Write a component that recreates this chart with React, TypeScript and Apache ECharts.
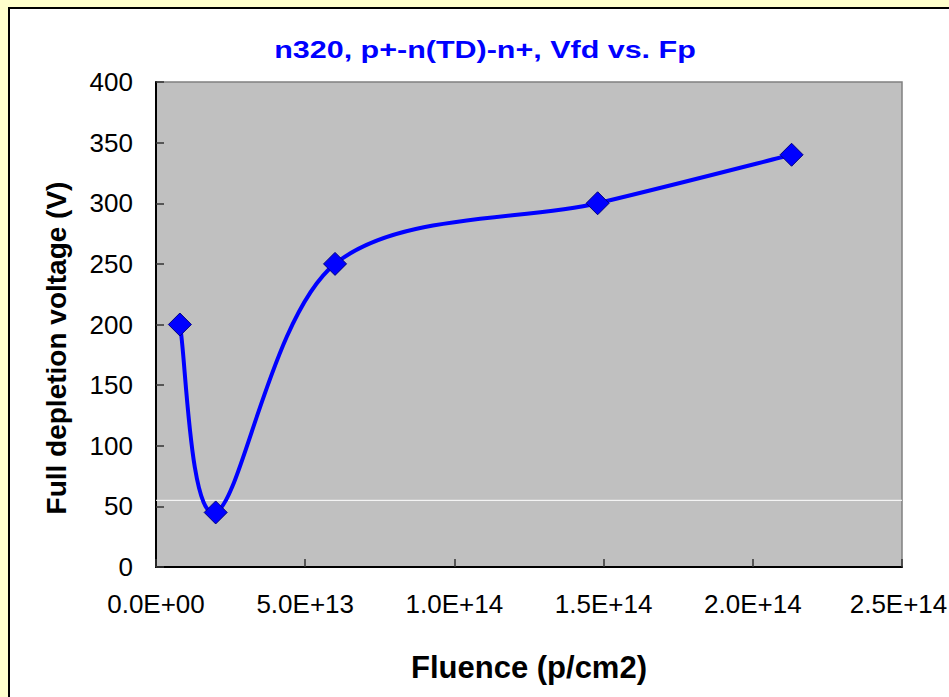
import React, { useEffect, useRef } from "react";
import * as echarts from "echarts";

// Fluence (p/cm2) and full depletion voltage (V) of the measured samples
const fluence = [8e12, 2e13, 6e13, 1.48e14, 2.13e14];
const vfd = [200, 45, 250, 300, 340];

// Axis tick labels
const xTickLabels = ["0.0E+00", "5.0E+13", "1.0E+14", "1.5E+14", "2.0E+14", "2.5E+14"];
const yTickValues = [0, 50, 100, 150, 200, 250, 300, 350, 400];

// Single light horizontal guide inside the plot area
const guideLevel = 55;

const FONT = "'Liberation Sans', Arial, Helvetica, sans-serif";

// Smooth curve through pixel points (Catmull-Rom style, 1/6 tangents)
function smoothPath(pts: number[][]): string {
  if (pts.length < 2) return "";
  let d = `M${pts[0][0]},${pts[0][1]}`;
  for (let i = 0; i < pts.length - 1; i++) {
    const p0 = pts[i - 1] ?? pts[i];
    const p1 = pts[i];
    const p2 = pts[i + 1];
    const p3 = pts[i + 2] ?? pts[i + 1];
    const c1x = p1[0] + (p2[0] - p0[0]) / 6;
    const c1y = p1[1] + (p2[1] - p0[1]) / 6;
    const c2x = p2[0] - (p3[0] - p1[0]) / 6;
    const c2y = p2[1] - (p3[1] - p1[1]) / 6;
    d += ` C${c1x},${c1y} ${c2x},${c2y} ${p2[0]},${p2[1]}`;
  }
  return d;
}

export default function App() {
  const ref = useRef<HTMLDivElement>(null);

  useEffect(() => {
    if (!ref.current) return;
    const chart = echarts.init(ref.current, undefined, { renderer: "svg" });
    const xStep = 5e13;
    const yStep = yTickValues[1] - yTickValues[0];
    const points = fluence.map((f, i) => [f, vfd[i]]);
    const lastX = xTickLabels.length - 1;

    chart.setOption({
      animation: false,
      backgroundColor: "#ffffcc",
      textStyle: { fontFamily: FONT },
      graphic: [
        {
          type: "rect",
          z: -10,
          shape: { x: 9, y: 8, width: 1000, height: 800 },
          style: { fill: "#ffffff", stroke: "#000000", lineWidth: 2 },
        },
        {
          type: "text",
          x: 485,
          y: 50,
          scaleX: 1.27,
          style: {
            text: "n320, p+-n(TD)-n+, Vfd vs. Fp",
            fill: "#0000ff",
            fontSize: 24,
            fontWeight: "bold",
            fontFamily: FONT,
            textAlign: "center",
            textVerticalAlign: "middle",
          },
        },
        {
          type: "text",
          x: 529,
          y: 667,
          style: {
            text: "Fluence (p/cm2)",
            fill: "#000000",
            fontSize: 31,
            fontWeight: "bold",
            fontFamily: FONT,
            textAlign: "center",
            textVerticalAlign: "middle",
          },
        },
        {
          type: "text",
          x: 56,
          y: 348,
          rotation: Math.PI / 2,
          style: {
            text: "Full depletion voltage (V)",
            fill: "#000000",
            fontSize: 28,
            fontWeight: "bold",
            fontFamily: FONT,
            textAlign: "center",
            textVerticalAlign: "middle",
          },
        },
      ],
      grid: {
        left: 156,
        top: 82,
        right: 47,
        bottom: 130,
        outerBoundsMode: "none",
        containLabel: false,
        show: true,
        backgroundColor: "#c0c0c0",
        borderColor: "#808080",
        borderWidth: 1.5,
      },
      xAxis: {
        type: "value",
        min: 0,
        max: xStep * lastX,
        interval: xStep,
        axisLine: { show: true, onZero: false, lineStyle: { color: "#000000", width: 2 } },
        axisTick: { show: true, inside: true, length: 8, lineStyle: { color: "#333333", width: 1.5 } },
        splitLine: { show: false },
        axisLabel: {
          color: "#000000",
          fontSize: 26,
          fontFamily: FONT,
          margin: 24,
          hideOverlap: false,
          formatter: (v: number) => {
            const i = Math.round(v / xStep);
            const label = xTickLabels[i] ?? "";
            // keep the right-most label inside the canvas edge
            return i === lastX ? `{edge|${label}}` : label;
          },
          rich: {
            edge: {
              fontSize: 26,
              fontFamily: FONT,
              color: "#000000",
              padding: [0, 7, 0, 0],
            },
          },
        },
      },
      yAxis: {
        type: "value",
        min: yTickValues[0],
        max: yTickValues[yTickValues.length - 1],
        interval: yStep,
        axisLine: { show: true, onZero: false, lineStyle: { color: "#000000", width: 2 } },
        axisTick: { show: true, inside: true, length: 8, lineStyle: { color: "#333333", width: 1.5 } },
        splitLine: { show: false },
        axisLabel: {
          color: "#000000",
          fontSize: 26,
          fontFamily: FONT,
          margin: 23,
        },
      },
      series: [
        {
          type: "line",
          silent: true,
          z: 1,
          symbol: "none",
          data: [
            [0, guideLevel],
            [xStep * lastX, guideLevel],
          ],
          lineStyle: { color: "#ffffff", width: 1 },
        },
        {
          type: "custom",
          z: 2,
          silent: true,
          data: points,
          renderItem: (params: any, api: any) => {
            if (params.dataIndex !== 0) return null;
            const px = points.map((p) => api.coord(p));
            return {
              type: "path",
              shape: { pathData: smoothPath(px) },
              style: { stroke: "#0000ff", lineWidth: 4, fill: "none" },
            };
          },
        },
        {
          type: "scatter",
          z: 3,
          data: points,
          symbol: "diamond",
          symbolSize: 23,
          itemStyle: { color: "#0000ff", borderColor: "#000080", borderWidth: 1, opacity: 1 },
        },
      ],
    });

    return () => chart.dispose();
  }, []);

  return (
    <div
      ref={ref}
      style={{ position: "absolute", left: 0, top: 0, width: 949, height: 697 }}
    />
  );
}
